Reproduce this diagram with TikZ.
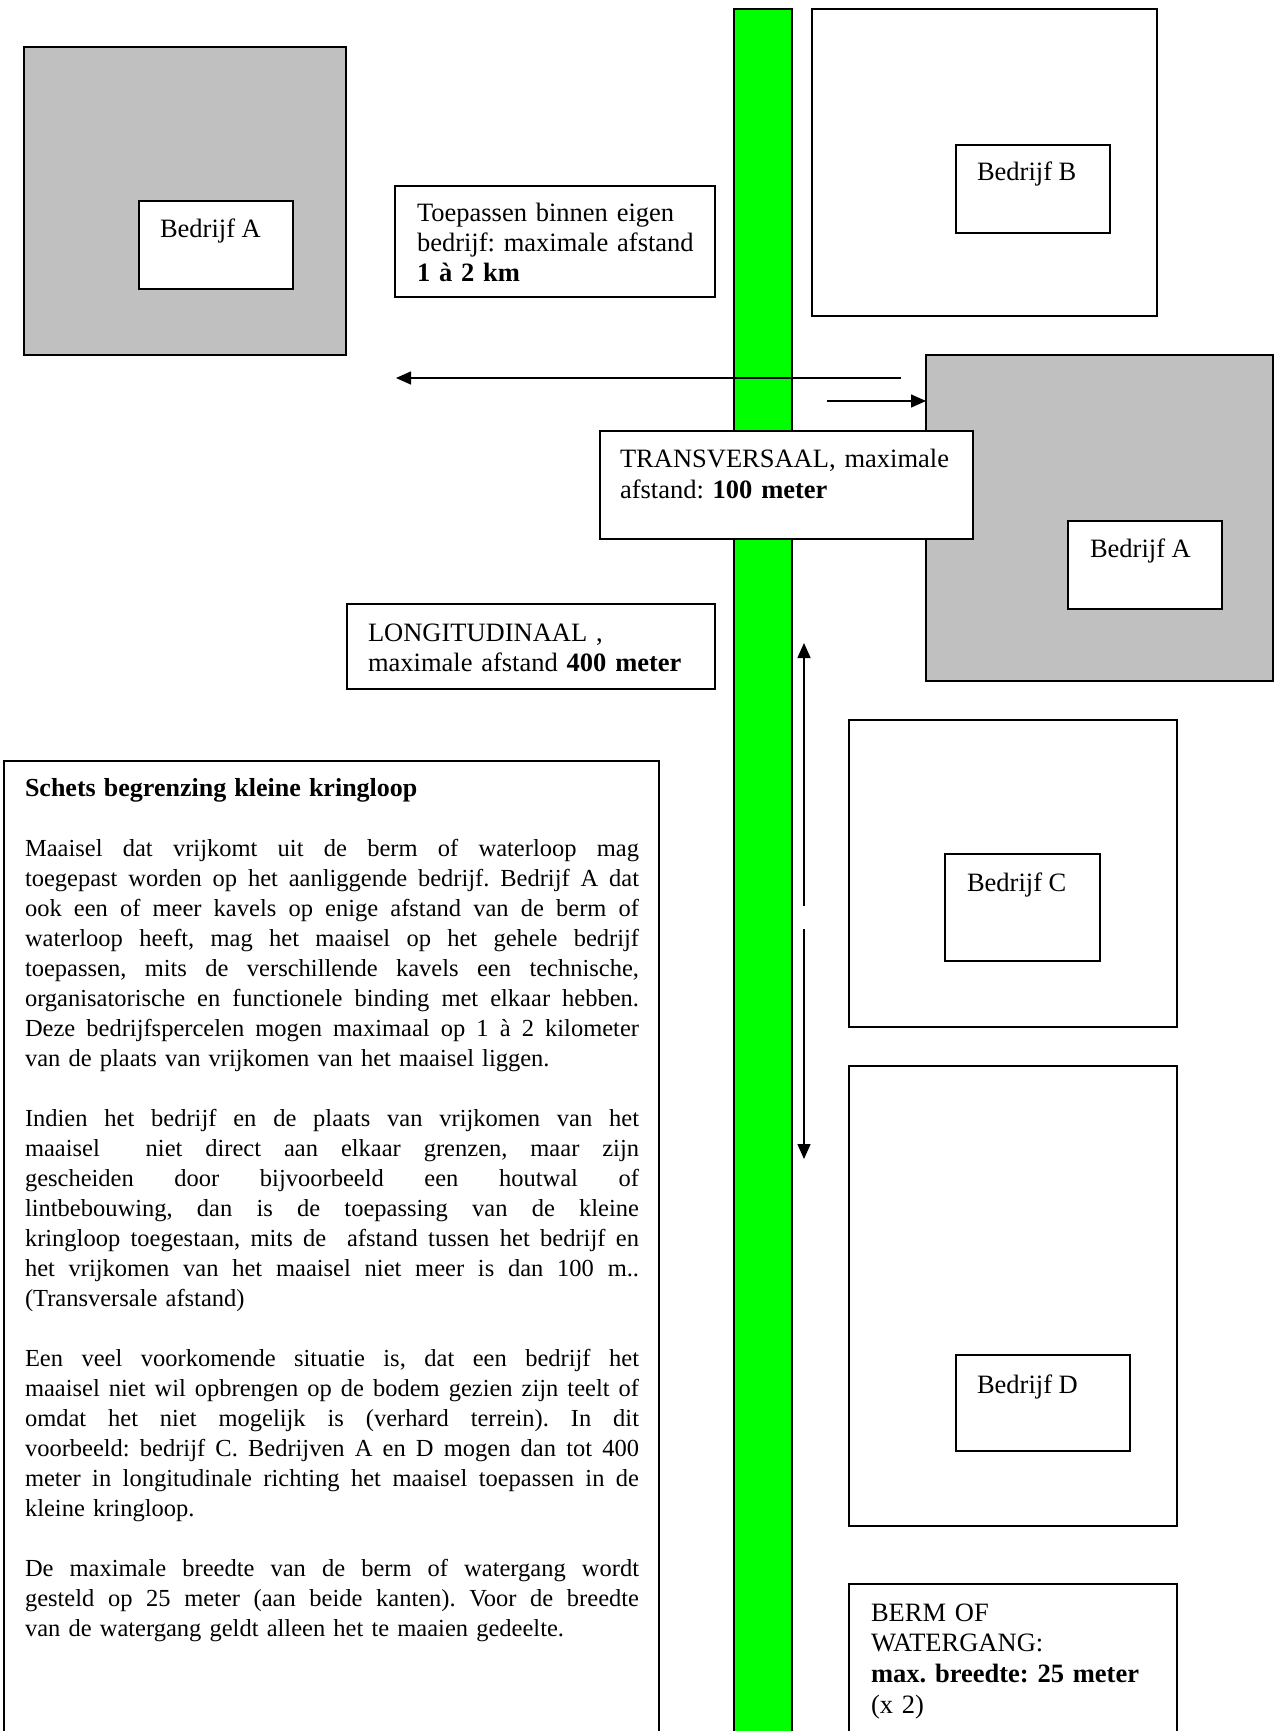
\documentclass[tikz,border=0pt]{standalone}
\usepackage{fontspec}
\setmainfont{Liberation Serif}
\usetikzlibrary{arrows.meta}
\definecolor{berm}{HTML}{00FF00}
\definecolor{kavel}{HTML}{C0C0C0}
\newcommand{\jl}[1]{\leavevmode\hbox to 614pt{\spaceskip=0.25em plus 1fil minus 0.05em\xspaceskip=\spaceskip\relax #1}}
\begin{document}
\frenchspacing
\begin{tikzpicture}[x=1pt,y=-1pt,
  box/.style={draw=black,line width=1.6pt,fill=white,inner sep=0pt,outer sep=0pt,anchor=north west},
  greybox/.style={box,fill=kavel},
  strip/.style={box,fill=berm},
  lbl/.style={inner sep=0pt,outer sep=0pt,anchor=base west,font=\fontsize{26.5}{30.5}\selectfont},
  mlbl/.style={lbl,text width=380pt},
  body/.style={inner sep=0pt,outer sep=0pt,anchor=base west,text width=614pt,font=\fontsize{24.5}{30}\selectfont},
  arr/.style={line width=1.5pt,-{Triangle[length=15pt,width=13pt]}}]
\useasboundingbox (0,0) rectangle (1280,1731);
\clip (0,0) rectangle (1280,1731);
\fill[white] (0,0) rectangle (1280,1731);
% strip
\node[strip,minimum width=58pt,minimum height=1760pt] (groen) at (734,9) {};
% plots
\node[greybox,minimum width=322pt,minimum height=308pt] (gA1) at (24,47) {};
\node[box,minimum width=154pt,minimum height=88pt] (bA1) at (139,201) {};
\node[box,minimum width=345pt,minimum height=307pt] (oB) at (812,9) {};
\node[box,minimum width=154pt,minimum height=88pt] (bB) at (956,145) {};
\node[greybox,minimum width=347pt,minimum height=326pt] (gA2) at (926,355) {};
\node[box,minimum width=154pt,minimum height=88pt] (bA2) at (1068,521) {};
\node[box,minimum width=328pt,minimum height=307pt] (oC) at (849,720) {};
\node[box,minimum width=155pt,minimum height=107pt] (bC) at (945,854) {};
\node[box,minimum width=328pt,minimum height=460pt] (oD) at (849,1066) {};
\node[box,minimum width=174pt,minimum height=96pt] (bD) at (956,1355) {};
% arrows
\coordinate (la1) at (901,378);
\coordinate (la2) at (396,378);
\draw[arr] (la1) -- (la2);
\coordinate (sa1) at (827,401);
\draw[arr] (sa1) -- (sa1 -| gA2.west);
\coordinate (va1) at (804,906);
\coordinate (va2) at (804,643);
\coordinate (vb1) at (804,929);
\coordinate (vb2) at (804,1159);
\draw[arr] (va1) -- (va2);
\draw[arr] (vb1) -- (vb2);
% text boxes
\node[box,minimum width=320pt,minimum height=111pt] (toep) at (395,186) {};
\node[box,minimum width=373pt,minimum height=108pt] (trans) at (600,431) {};
\node[box,minimum width=368pt,minimum height=85pt] (long) at (347,604) {};
\node[box,minimum width=328pt,minimum height=200pt] (bermbox) at (849,1584) {};
\node[box,minimum width=655pt,minimum height=1000pt] (tekst) at (4,761) {};
% labels
\node[lbl] (tA1) at (160,237) {Bedrijf A};
\node[lbl] (tB) at (977,181) {Bedrijf B};
\node[lbl] (tA2) at (1090,557) {Bedrijf A};
\node[lbl] (tC) at (967,891) {Bedrijf C};
\node[lbl] (tD) at (977,1393) {Bedrijf D};
\node[mlbl,font=\fontsize{26.5}{30}\selectfont] (ttoep) at (417,221) {Toepassen binnen eigen\\bedrijf: maximale afstand\\\textbf{1 à 2 km}};
\node[mlbl,font=\fontsize{26.5}{31}\selectfont] (ttrans) at (620,467) {TRANSVERSAAL, maximale\\afstand: \textbf{100 meter}};
\node[mlbl,font=\fontsize{26.5}{30.5}\selectfont] (tlong) at (368,641) {LONGITUDINAAL ,\\maximale afstand \textbf{400 meter}};
\node[mlbl,font=\fontsize{26.5}{30.7}\selectfont] (tberm) at (871,1621) {BERM OF\\WATERGANG:\\\textbf{max. breedte: 25 meter}\\(x 2)};
\node[body] (tbody) at (25,796) {{\fontsize{26}{30}\selectfont\textbf{Schets begrenzing kleine kringloop}}\\[30pt]
\jl{Maaisel dat vrijkomt uit de berm of waterloop mag}\\
\jl{toegepast worden op het aanliggende bedrijf. Bedrijf A dat}\\
\jl{ook een of meer kavels op enige afstand van de berm of}\\
\jl{waterloop heeft, mag het maaisel op het gehele bedrijf}\\
\jl{toepassen, mits de verschillende kavels een technische,}\\
\jl{organisatorische en functionele binding met elkaar hebben.}\\
\jl{Deze bedrijfspercelen mogen maximaal op 1 à 2 kilometer}\\
van de plaats van vrijkomen van het maaisel liggen.\\[30pt]
\jl{Indien het bedrijf en de plaats van vrijkomen van het}\\
\jl{maaisel\ \ niet direct aan elkaar grenzen, maar zijn}\\
\jl{gescheiden door bijvoorbeeld een houtwal of}\\
\jl{lintbebouwing, dan is de toepassing van de kleine}\\
\jl{kringloop toegestaan, mits de\ \ afstand tussen het bedrijf en}\\
\jl{het vrijkomen van het maaisel niet meer is dan 100 m..}\\
(Transversale afstand)\\[30pt]
\jl{Een veel voorkomende situatie is, dat een bedrijf het}\\
\jl{maaisel niet wil opbrengen op de bodem gezien zijn teelt of}\\
\jl{omdat het niet mogelijk is (verhard terrein). In dit}\\
\jl{voorbeeld: bedrijf C. Bedrijven A en D mogen dan tot 400}\\
\jl{meter in longitudinale richting het maaisel toepassen in de}\\
kleine kringloop.\\[30pt]
\jl{De maximale breedte van de berm of watergang wordt}\\
\jl{gesteld op 25 meter (aan beide kanten). Voor de breedte}\\
van de watergang geldt alleen het te maaien gedeelte.};
\end{tikzpicture}
\end{document}
